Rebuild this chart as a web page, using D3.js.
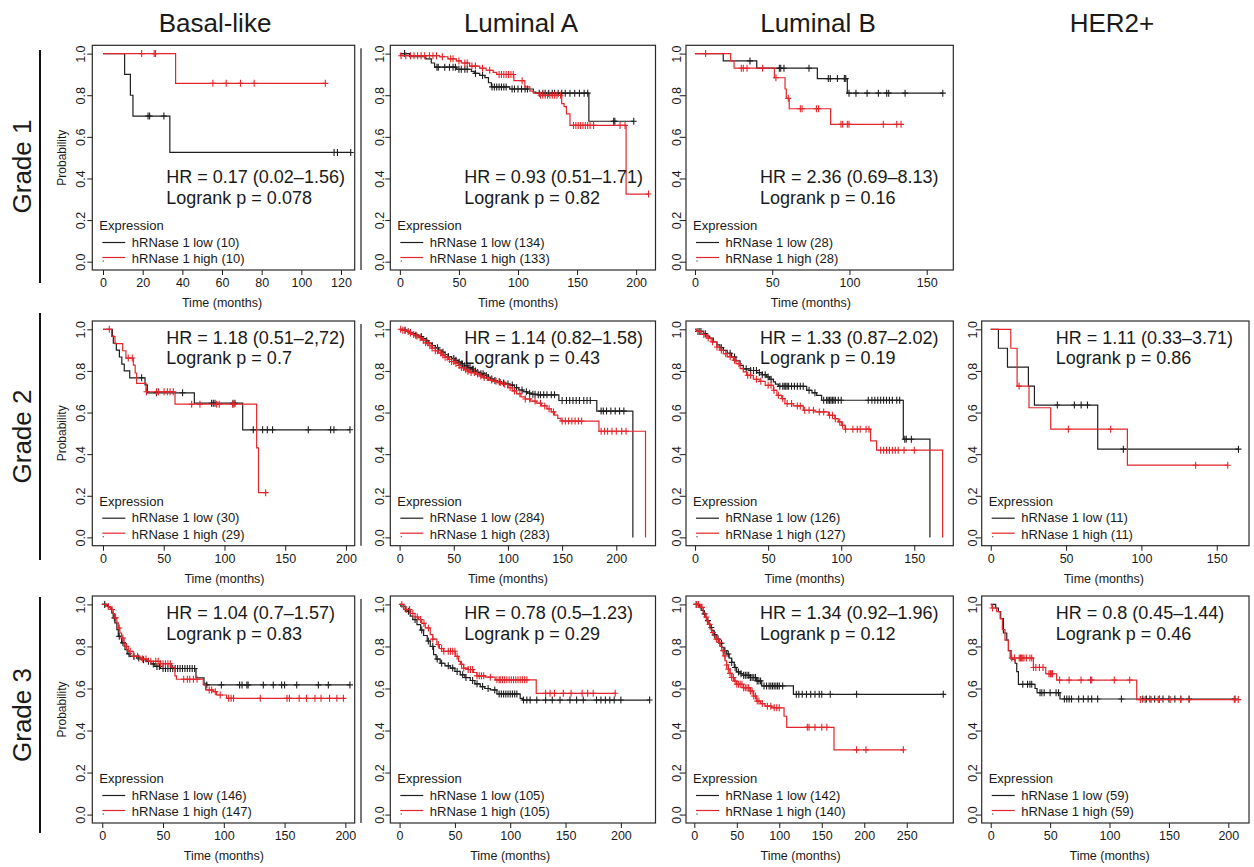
<!DOCTYPE html>
<html>
<head>
<meta charset="utf-8">
<script src="https://cdn.jsdelivr.net/npm/d3@7"></script>
<style>
  body { margin: 0; background: #fff; }
  svg { display: block; }
  text { font-family: "Liberation Sans", Arial, Helvetica, sans-serif; fill: #1a1a1a; }
</style>
</head>
<body>
<svg id="chart" width="1254" height="867"></svg>
<script>
// ---------- categories and labels ----------
const subtypes = ["Basal-like", "Luminal A", "Luminal B", "HER2+"];
const grades = ["Grade 1", "Grade 2", "Grade 3"];
const groupNames = ["hRNase 1 low", "hRNase 1 high"];
const legendTitle = "Expression";
const yTicks = [0, 0.2, 0.4, 0.6, 0.8, 1.0];

// x tick labels for each panel [grade][subtype]
const xTicks = [
  [[0, 20, 40, 60, 80, 100, 120], [0, 50, 100, 150, 200], [0, 50, 100, 150], null],
  [[0, 50, 100, 150, 200], [0, 50, 100, 150, 200], [0, 50, 100, 150], [0, 50, 100, 150]],
  [[0, 50, 100, 150, 200], [0, 50, 100, 150, 200], [0, 50, 100, 150, 200, 250], [0, 50, 100, 150, 200]]
];

// group sizes
const nLow  = [[10, 134, 28, null], [30, 284, 126, 11], [146, 105, 142, 59]];
const nHigh = [[10, 133, 28, null], [29, 283, 127, 11], [147, 105, 140, 59]];

// hazard ratio and log-rank statistics
const hrText = [
  ["HR = 0.17 (0.02\u20131.56)", "HR = 0.93 (0.51\u20131.71)", "HR = 2.36 (0.69\u20138.13)", null],
  ["HR = 1.18 (0.51\u20132,72)", "HR = 1.14 (0.82\u20131.58)", "HR = 1.33 (0.87\u20132.02)", "HR = 1.11 (0.33\u20133.71)"],
  ["HR = 1.04 (0.7\u20131.57)", "HR = 0.78 (0.5\u20131.23)", "HR = 1.34 (0.92\u20131.96)", "HR = 0.8 (0.45\u20131.44)"]
];
const logrankText = [
  ["Logrank p = 0.078", "Logrank p = 0.82", "Logrank p = 0.16", null],
  ["Logrank p = 0.7", "Logrank p = 0.43", "Logrank p = 0.19", "Logrank p = 0.86"],
  ["Logrank p = 0.83", "Logrank p = 0.29", "Logrank p = 0.12", "Logrank p = 0.46"]
];

// ---------- Kaplan-Meier curves: [time (months), survival after the step]; censor times ----------
// Grade 1, Basal-like
const g1BasalLow = [[0,1],[10.9,0.9],[13.8,0.8],[15.1,0.7],[33.7,0.525]];
const g1BasalLowCens = [22.7,23.5,30.7,116.5,118.2,124.9];
const g1BasalHigh = [[0,1],[36.6,0.857]];
const g1BasalHighCens = [19.5,25.8,26.5,55.4,62.1,69.3,76.2,112.1];

// Grade 1, Luminal A
const g1LumALow = [[0,1],[8.2,0.985],[22,0.975],[26.6,0.955],[29.4,0.935],[48,0.925],[60.5,0.915],[63,0.905],[67.6,0.895],[72,0.885],[75,0.86],[77.5,0.84],[93,0.83],[113,0.815],[115,0.81],[160,0.675]];
const g1LumALowCens = [4,31.4,32.5,38,42,45,47,50,52,55,57,64,70,78,80,82,84,86,88,90,95,97,100,103,106,108,118,121,123,126,129,131,134,137,140,144,148,152,156,159,181,182,198];
const g1LumAHigh = [[0,1],[0.5,0.99],[33.7,0.985],[40.7,0.975],[47.8,0.965],[52,0.955],[59,0.94],[67.6,0.93],[73,0.92],[79,0.91],[82,0.9],[96.5,0.87],[105.8,0.84],[110,0.82],[113,0.81],[118.5,0.8],[137,0.76],[139,0.745],[141,0.71],[144,0.655],[191.5,0.325]];
const g1LumAHighCens = [1,5,9,12,15,18,21,25,28,31,36,43,45,50,55,57,61,64,70,76,84,86,88,90,92,94,96,103.5,119,121,123,125,127,129,131,133,136,147,149,151,153,155,157,159,161,164,186.4,190.6,210.5];

// Grade 1, Luminal B
const g1LumBLow = [[0,1],[18.3,0.965],[40,0.93],[79.2,0.88],[98.6,0.81]];
const g1LumBLowCens = [35.6,54.6,55.5,57.6,73.8,86.3,87.6,92.2,96.7,97.6,99.7,104.2,111.4,118.7,124.1,125.4,136,160.4];
const g1LumBHigh = [[0,1],[23.1,0.965],[25.3,0.93],[51.4,0.884],[58.3,0.83],[59.1,0.785],[61,0.735],[87.8,0.66]];
const g1LumBHighCens = [6.9,30,31.3,33.7,43.8,52.4,60.4,68.2,69.3,78.6,80,94.5,95.6,98.6,99.7,121.9,130.6,133.4];

// Grade 2, Basal-like
const g2BasalLow = [[0,1],[7.7,0.967],[8.5,0.933],[11,0.9],[13.5,0.867],[15.5,0.833],[17.5,0.8],[22,0.767],[34.6,0.733],[36.5,0.695],[75.2,0.645],[115,0.517]];
const g2BasalLowCens = [31.8,44,65.5,89.4,90.8,92.2,107,108.6,123.7,131.4,135.3,139.6,169,187.4,190.1,203.3];
const g2BasalHigh = [[0,1],[7.1,0.966],[9.9,0.931],[16.2,0.897],[18.9,0.862],[25,0.828],[26.5,0.79],[27.7,0.74],[35.4,0.7],[59.3,0.64],[126.5,0.43],[128,0.215]];
const g2BasalHighCens = [5.2,20.8,24.1,35.8,44.2,45.6,50.3,53,55.2,57.9,73,79.8,93.6,95.7,106.7,107.8,133.9];

// Grade 2, Luminal A
const g2LumALow = [[0,1],[3,0.996],[6,0.99],[9,0.985],[12,0.979],[15,0.972],[18,0.965],[21,0.956],[24,0.945],[27,0.933],[30,0.922],[33,0.911],[36,0.9],[39,0.89],[42,0.879],[45,0.869],[48,0.86],[51,0.851],[54,0.842],[57,0.833],[60,0.825],[63,0.816],[66,0.808],[69,0.8],[72,0.793],[75,0.786],[78,0.778],[81,0.769],[84,0.761],[87,0.754],[90,0.748],[94,0.742],[98,0.737],[102,0.732],[106,0.72],[110,0.708],[114,0.7],[118,0.693],[122,0.688],[128,0.685],[147,0.658],[182,0.607],[215.3,0]];
const g2LumALowCens = [5,10,15,20,25,30,35,40,45,50,52,55,57,58,60,62,63,65,67,68,70,72,75,77,78,80,82,85,88,92,96,100,104,108,113,117,120,123,125,128,130,133,136,140,143,150,154,157,160,163,166,170,173,176,186,188,191,195,199,203,207];
const g2LumAHigh = [[0,1],[3,0.995],[6,0.99],[9,0.982],[12,0.975],[15,0.968],[18,0.96],[21,0.948],[24,0.935],[27,0.922],[30,0.91],[33,0.897],[36,0.886],[39,0.876],[42,0.866],[45,0.855],[48,0.845],[51,0.836],[54,0.826],[57,0.816],[60,0.806],[63,0.799],[66,0.792],[70,0.785],[74,0.776],[78,0.768],[82,0.756],[86,0.75],[90,0.744],[95,0.736],[100,0.72],[104,0.704],[108,0.69],[112,0.675],[116,0.665],[121,0.655],[126,0.645],[131,0.632],[136,0.618],[140,0.603],[143,0.588],[146,0.572],[149,0.559],[184,0.51],[227,0]];
const g2LumAHighCens = [1,3,5,8,10,13,16,19,22,24,26,28,30,33,35,38,40,42,44,46,48,50,52,55,57,59,61,63,66,69,72,75,78,81,85,89,93,97,102,106,111,116,120,125,130,134,138,142,150,153,156,159,162,165,168,186,189,192,196,200,205,209];

// Grade 2, Luminal B
const g2LumBLow = [[0,1],[1,0.99],[5.7,0.979],[8,0.968],[10,0.958],[12.5,0.939],[15,0.925],[17,0.912],[19.4,0.899],[22,0.885],[25,0.867],[28,0.848],[30.8,0.827],[33,0.81],[38,0.802],[42.2,0.792],[46,0.782],[49,0.771],[51,0.76],[53.6,0.747],[55,0.737],[57,0.726],[76.4,0.707],[80,0.695],[83.2,0.683],[86.6,0.659],[142.5,0.472],[160.7,0]];
const g2LumBLowCens = [2,4,7,18,24,27,35,38,40,42,44,46,48,50,52,58,60,61,62,63,64,66,68,70,72,74,78,82,88,90,91,92,93,94,95,96,98,100,118.5,121,123,125,127,129,131,133,135,138,140,143.5,144.5,148];
const g2LumBHigh = [[0,1],[1,0.99],[4,0.975],[8,0.958],[11,0.94],[14.8,0.915],[17,0.9],[19.4,0.883],[22,0.868],[26.2,0.851],[28,0.835],[30.8,0.811],[33,0.795],[35.3,0.779],[39.9,0.76],[44.4,0.75],[48,0.731],[53.6,0.707],[56,0.683],[59.3,0.667],[61.5,0.643],[67.2,0.632],[74.1,0.611],[82,0.603],[91.2,0.587],[95.7,0.571],[98,0.555],[100.3,0.539],[102.6,0.52],[120.1,0.464],[124.2,0.419],[169.4,0]];
const g2LumBHighCens = [3,6,9,12,15,18,21,24,27,30,36,38,42,45,50,52,54,57,60,63,66,70,72,75,78,81,85,88,92,94,96,99,101,103,108,111,113,117,119,127,129,131,133,135,137,139,143,150];

// Grade 2, HER2+
const g2Her2Low = [[0,1],[5.1,0.909],[11.1,0.818],[25,0.727],[29,0.636],[71,0.424]];
const g2Her2LowCens = [44.2,55.5,60,64.2,88,164.4];
const g2Her2High = [[0,1],[13.3,0.909],[17.5,0.727],[25.4,0.623],[39.8,0.52],[90.7,0.347]];
const g2Her2HighCens = [18.8,51.5,79.6,136,157.3];

// Grade 3, Basal-like
const g3BasalLow = [[0,1],[3,0.995],[5,0.984],[7.7,0.96],[9,0.936],[10.4,0.912],[12,0.88],[13.2,0.848],[15.9,0.817],[18.7,0.785],[20.5,0.765],[22.8,0.753],[28.3,0.745],[32,0.737],[36.5,0.729],[40,0.717],[43.3,0.705],[48,0.695],[77.1,0.65],[83.7,0.625],[85.9,0.617]];
const g3BasalLowCens = [2,10,14,17,22,26,30,34,38,42,45,47,50,52,54,56,58,60,62,64,66,68,70,72,74,76,86,98,113,115,119,120,132.5,140.7,147.6,150,160,177.8,186,203.8];
const g3BasalHigh = [[0,1],[3.6,0.99],[6.9,0.976],[9,0.956],[10.4,0.936],[12,0.912],[13.2,0.888],[14.5,0.864],[15.9,0.84],[18,0.8],[21.4,0.777],[25.5,0.753],[31,0.74],[37.9,0.729],[47.5,0.718],[57,0.7],[59.8,0.66],[61,0.644],[83.1,0.617],[85,0.593],[91.4,0.585],[94.1,0.569],[102.3,0.553]];
const g3BasalHighCens = [5,8,11,14,17,20,23,26,29,33,36,40,44,46,48,50,52,54,56,67,70,72,75,78,88,90,93,97,104,106,108,130,152,154,162,168,175,180,187,193,198.4];

// Grade 3, Luminal A
const g3LumALow = [[0,1],[1,0.992],[5.1,0.968],[9.6,0.944],[12,0.928],[15.7,0.904],[19,0.878],[21.7,0.852],[25,0.826],[27.7,0.8],[30.7,0.761],[33,0.74],[36.7,0.72],[41,0.708],[45.8,0.697],[50,0.681],[54.8,0.665],[59,0.652],[63.9,0.638],[68,0.622],[72.9,0.609],[77,0.6],[81.9,0.593],[88,0.574],[109,0.553],[111,0.545]];
const g3LumALowCens = [8,14,20,26,30,34,38,44,48,52,57,60,66,70,75,80,86,90,92,94,96,98,100,102,104,106,112,115,118,124,132,138,145,154,160,166,178,182,186,190,194,200,226];
const g3LumAHigh = [[0,1],[3.6,0.976],[9.6,0.957],[14,0.94],[17.2,0.928],[20,0.91],[23.2,0.888],[27.7,0.856],[30,0.835],[33.7,0.809],[36,0.79],[39.8,0.777],[50.3,0.753],[53.3,0.729],[55,0.715],[57.8,0.697],[62,0.69],[66.9,0.676],[69.9,0.66],[77.4,0.654],[86.4,0.641],[123.5,0.577]];
const g3LumAHighCens = [2,6,9,12,16,19,22,26,30,35,38,40,44,46,48,50,52,56,58,62,64,66,70,72,74,76,82,88,90,91,93,95,97,99,101,103,105,107,109,111,113,115,132,136,140,148,155,165,170,175,194.9];

// Grade 3, Luminal B
const g3LumBLow = [[0,1],[4.7,0.995],[6.5,0.985],[8.6,0.971],[10.6,0.955],[12.6,0.939],[14.5,0.923],[16.5,0.907],[18.4,0.89],[20.4,0.875],[23.3,0.855],[26.3,0.835],[29.2,0.815],[32.2,0.796],[35,0.78],[38.1,0.764],[41,0.744],[44,0.724],[47,0.7],[49.8,0.679],[54,0.67],[57.7,0.663],[65.5,0.652],[73.4,0.636],[79.3,0.612],[116.6,0.572]];
const g3LumBLowCens = [3,8,12,16,20,24,28,32,36,40,44,48,52,55,58,60,62,64,66,68,70,72,74,76,78,82,85,88,90,92,94,96,98,100,104,120,123,127,132,137,142,147,150,160,191,293];
const g3LumBHigh = [[0,1],[6.7,0.986],[10.6,0.96],[12.5,0.94],[14.5,0.923],[16.5,0.905],[18.4,0.883],[20.4,0.866],[22.4,0.851],[25.3,0.835],[28.3,0.819],[30.2,0.8],[32.2,0.78],[34.2,0.755],[36.1,0.732],[38,0.712],[40,0.692],[42,0.672],[44,0.652],[47,0.635],[49.8,0.62],[57.7,0.604],[65.5,0.588],[69.5,0.564],[73.4,0.54],[78,0.528],[83.2,0.516],[91.1,0.508],[105.6,0.468],[108.7,0.415],[164.4,0.308]];
const g3LumBHighCens = [2,5,9,14,18,22,26,30,34,36,38,40,42,44,46,48,50,52,54,56,58,60,62,64,66,68,70,72,74,76,80,86,90,94,97,100,133,135,142,150,156,191,202,246];

// Grade 3, HER2+
const g3Her2Low = [[0,1],[4.2,0.983],[6.5,0.966],[8.4,0.932],[10.7,0.864],[13.5,0.83],[14.9,0.78],[17.1,0.74],[20.5,0.72],[21.9,0.68],[23.3,0.62],[37.3,0.6],[39,0.58],[58.3,0.55]];
const g3Her2LowCens = [27,31,33,34.5,41.5,43,45,50,55,57,62,64,66,68,74,78,82,85,90,110,128,131,134,138,142,145,150,155,160,167,205.6];
const g3Her2High = [[0,1],[1,0.983],[5,0.966],[7.9,0.932],[9.8,0.88],[12,0.83],[14.9,0.78],[16.3,0.745],[35.9,0.7],[46.3,0.67],[55.5,0.64],[122.9,0.547]];
const g3Her2HighCens = [1.5,17.7,20,24,25,26,27,28,30,33,34.5,36,38,41,44,49,50,50.5,51,52,58,66,76,84,85,104,117,126,130,135,141,142,151,160,167,205,208.4];

// curve table indexed [grade][subtype]
const curves = [
  [
    { low: g1BasalLow, lowCens: g1BasalLowCens, high: g1BasalHigh, highCens: g1BasalHighCens },
    { low: g1LumALow, lowCens: g1LumALowCens, high: g1LumAHigh, highCens: g1LumAHighCens },
    { low: g1LumBLow, lowCens: g1LumBLowCens, high: g1LumBHigh, highCens: g1LumBHighCens },
    null
  ],
  [
    { low: g2BasalLow, lowCens: g2BasalLowCens, high: g2BasalHigh, highCens: g2BasalHighCens },
    { low: g2LumALow, lowCens: g2LumALowCens, high: g2LumAHigh, highCens: g2LumAHighCens },
    { low: g2LumBLow, lowCens: g2LumBLowCens, high: g2LumBHigh, highCens: g2LumBHighCens },
    { low: g2Her2Low, lowCens: g2Her2LowCens, high: g2Her2High, highCens: g2Her2HighCens }
  ],
  [
    { low: g3BasalLow, lowCens: g3BasalLowCens, high: g3BasalHigh, highCens: g3BasalHighCens },
    { low: g3LumALow, lowCens: g3LumALowCens, high: g3LumAHigh, highCens: g3LumAHighCens },
    { low: g3LumBLow, lowCens: g3LumBLowCens, high: g3LumBHigh, highCens: g3LumBHighCens },
    { low: g3Her2Low, lowCens: g3Her2LowCens, high: g3Her2High, highCens: g3Her2HighCens }
  ]
];

// ---------- layout ----------
const colX = [[92.3, 354.7], [390.3, 655.5], [686, 953.3], [981.7, 1249]];
const rowY = [[45.3, 270], [321, 545.7], [596, 823]];
// x-axis limits (months) at the panel frame edges
const xLimits = [
  [[-5.4, 126.9], [-8.1, 216.4], [-5.8, 167.2], null],
  [[-8.8, 207.2], [-8.6, 236.2], [-6.2, 176.7], [-6.0, 171.4]],
  [[-8.2, 207.7], [-8.4, 231.3], [-9.8, 304.8], [-7.6, 217.4]]
];
const yLimits = [-0.04, 1.04];
const headerX = [215, 521, 818, 1112];
const rowBarY = [[50, 283], [313, 560], [597, 833]];
const yLabelOffset = [12, 11, 9, 9];
const statsBaseline = [138, 22.5, 23];   // from frame top
const colorLow = "#1f1f1f";
const colorHigh = "#e3262b";
const ink = "#1a1a1a";

const svg = d3.select("#chart");

// column headers
svg.selectAll("text.header").data(subtypes).join("text")
  .attr("class", "header")
  .attr("x", (d, i) => headerX[i]).attr("y", 32)
  .attr("text-anchor", "middle")
  .style("font-size", "26px")
  .text(d => d);

// row labels with bars
grades.forEach((g, r) => {
  const yc = (rowBarY[r][0] + rowBarY[r][1]) / 2;
  svg.append("text")
    .attr("transform", `translate(22,${yc}) rotate(-90)`)
    .attr("text-anchor", "middle").attr("dy", "0.36em")
    .style("font-size", "26px")
    .text(g);
  svg.append("line")
    .attr("x1", 40).attr("x2", 40)
    .attr("y1", rowBarY[r][0]).attr("y2", rowBarY[r][1])
    .attr("stroke", "#111").attr("stroke-width", 2);
});

function survivalAt(steps, t) {
  let s = steps[0][1];
  for (const [ti, si] of steps) { if (ti <= t) s = si; else break; }
  return s;
}

grades.forEach((g, r) => {
  subtypes.forEach((st, c) => {
    const panel = curves[r][c];
    if (!panel) return;
    const [left, right] = colX[c];
    const [top, bottom] = rowY[r];
    const x = d3.scaleLinear().domain(xLimits[r][c]).range([left, right]);
    const y = d3.scaleLinear().domain(yLimits).range([bottom, top]);
    const gp = svg.append("g");

    // thin rule left of the Luminal A column
    if (c === 1) {
      gp.append("line")
        .attr("x1", 361).attr("x2", 361).attr("y1", top + 3).attr("y2", bottom)
        .attr("stroke", "#555").attr("stroke-width", 1.6);
    }

    // x axis
    const xa = gp.append("g").attr("transform", `translate(0,${bottom})`)
      .call(d3.axisBottom(x).tickValues(xTicks[r][c]).tickSize(5).tickPadding(3).tickFormat(d3.format("d")));
    xa.select(".domain").remove();
    xa.selectAll("line").attr("stroke", ink);
    xa.selectAll("text").style("font-size", "12.5px").attr("fill", ink).attr("font-family", null);

    // y axis with labels parallel to the axis
    const ya = gp.append("g").attr("transform", `translate(${left},0)`)
      .call(d3.axisLeft(y).tickValues(yTicks).tickSize(5).tickFormat(d3.format(".1f")));
    ya.select(".domain").remove();
    ya.selectAll("line").attr("stroke", ink);
    ya.selectAll("text")
      .attr("x", null).attr("dy", "0.35em")
      .attr("text-anchor", "middle")
      .attr("transform", `translate(${-yLabelOffset[c]},0) rotate(-90)`)
      .style("font-size", "12.5px").attr("fill", ink).attr("font-family", null);

    // axis titles
    gp.append("text")
      .attr("x", (x(xTicks[r][c][0]) + x(xTicks[r][c][xTicks[r][c].length - 1])) / 2)
      .attr("y", bottom + 37)
      .attr("text-anchor", "middle")
      .style("font-size", "12.5px")
      .text("Time (months)");
    if (c === 0) {
      gp.append("text")
        .attr("transform", `translate(${left - 31},${(y(0) + y(1)) / 2}) rotate(-90)`)
        .attr("text-anchor", "middle").attr("dy", "0.35em")
        .style("font-size", "12px")
        .text("Probability");
    }

    // survival curves
    const line = d3.line().x(d => x(d[0])).y(d => y(d[1])).curve(d3.curveStepAfter);
    const series = [
      { steps: panel.low, cens: panel.lowCens, color: colorLow },
      { steps: panel.high, cens: panel.highCens, color: colorHigh }
    ];
    series.forEach(s => {
      const last = s.steps[s.steps.length - 1];
      const tEnd = Math.max(last[0], d3.max(s.cens) || 0);
      const pts = s.steps.concat(tEnd > last[0] ? [[tEnd, last[1]]] : []);
      gp.append("path")
        .attr("d", line(pts))
        .attr("fill", "none")
        .attr("stroke", s.color)
        .attr("stroke-width", 1.2);
      gp.selectAll(null).data(s.cens).join("path")
        .attr("d", t => {
          const px = x(t), py = y(survivalAt(s.steps, t));
          return `M${px},${py - 3.5}V${py + 3.5}M${px - 3},${py}H${px + 3}`;
        })
        .attr("stroke", s.color)
        .attr("stroke-width", 1.1)
        .attr("fill", "none");
    });

    // HR and log-rank text
    const sy = top + statsBaseline[r];
    gp.append("text").attr("x", left + 74).attr("y", sy)
      .style("font-size", "18px").text(hrText[r][c]);
    gp.append("text").attr("x", left + 74).attr("y", sy + 20.5)
      .style("font-size", "18px").text(logrankText[r][c]);

    // legend
    gp.append("text").attr("x", left + 7).attr("y", bottom - 40)
      .style("font-size", "13px").text(legendTitle);
    const legendRows = [
      { label: `${groupNames[0]} (${nLow[r][c]})`, color: colorLow, ly: bottom - 27.5, ty: bottom - 23.5 },
      { label: `${groupNames[1]} (${nHigh[r][c]})`, color: colorHigh, ly: bottom - 12.5, ty: bottom - 7 }
    ];
    legendRows.forEach(lr => {
      gp.append("line")
        .attr("x1", left + 10).attr("x2", left + 33)
        .attr("y1", lr.ly).attr("y2", lr.ly)
        .attr("stroke", lr.color).attr("stroke-width", 1.2);
      gp.append("text").attr("x", left + 39.5).attr("y", lr.ty)
        .style("font-size", "13px").text(lr.label);
    });
    gp.append("circle").attr("cx", left + 11).attr("cy", bottom - 9).attr("r", 0.8).attr("fill", "#666");

    // frame
    gp.append("rect")
      .attr("x", left).attr("y", top)
      .attr("width", right - left).attr("height", bottom - top)
      .attr("fill", "none").attr("stroke", "#2a2a2a").attr("stroke-width", 1.2);
  });
});
</script>
</body>
</html>
